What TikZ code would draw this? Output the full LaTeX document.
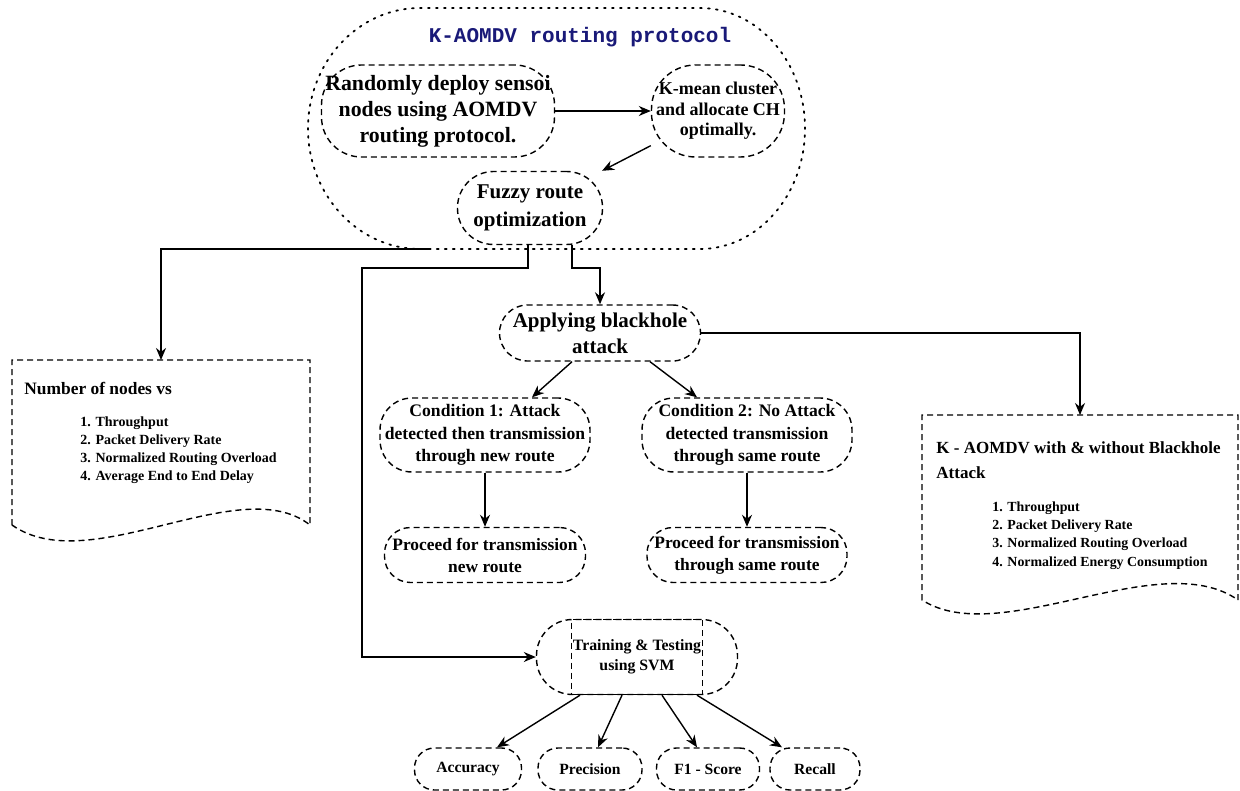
\documentclass[tikz,border=0pt]{standalone}
\usepackage{fontspec}
\setmainfont{Liberation Serif}
\setmonofont{Liberation Mono}
\usetikzlibrary{arrows.meta}
\definecolor{titleblue}{RGB}{25,25,120}
\newcommand{\fsz}[2]{\fontsize{#1}{#2}\selectfont\bfseries}
\tikzset{
  box/.style={draw, dash pattern=on 3pt off 2pt, line width=0.7pt, rounded corners=#1,
    align=center, inner sep=0pt},
  box/.default=14pt,
  docline/.style={draw, dash pattern=on 3pt off 2pt, line width=0.7pt},
  doctext/.style={anchor=west, align=left, inner sep=0pt},
  arr/.style={-{Stealth[length=6pt,width=5pt]}, line width=0.7pt},
  wire/.style={line width=0.7pt}
}
\begin{document}
\begin{tikzpicture}[x=0.5pt,y=-0.5pt]
\useasboundingbox (0,0) rectangle (1240,791);
% routing protocol group
\draw[dash pattern=on 0.9pt off 3.1pt, line cap=round, line width=0.9pt]
  (420,8) -- (700,8) arc[start angle=90, end angle=-90, x radius=52.5pt, y radius=60.25pt]
  -- (420,249) arc[start angle=270, end angle=90, x radius=56pt, y radius=60.25pt] -- cycle;
\node[minimum width=248.5pt, minimum height=120.5pt] (proto) at (556.5,128.5) {};
\node[font=\ttfamily\fsz{10.5}{12}, text=titleblue] (title) at (580,37) {K-AOMDV routing protocol};
\node[box=20pt, minimum width=116.5pt, minimum height=46pt, font=\fsz{10.9}{13}] (deploy) at (438,111)
  {Randomly deploy sensoi\\nodes using AOMDV\\routing protocol.};
\node[box=22pt, minimum width=66.5pt, minimum height=46pt, font=\fsz{9}{10.3}] (kmean) at (718,111)
  {K-mean cluster\\and allocate CH\\optimally.};
\node[box=18pt, minimum width=72.5pt, minimum height=36.5pt, font=\fsz{10.5}{14}] (fuzzy) at (530,208)
  {Fuzzy route\\optimization};
\draw[arr] (deploy.east) -- (kmean.west);
\draw[arr] (kmean) -- (fuzzy);

% attack branch
\node[box=14pt, minimum width=100.5pt, minimum height=28pt, font=\fsz{10.5}{13}] (apply) at (600,333)
  {Applying blackhole\\attack};
\node[box=16pt, minimum width=105pt, minimum height=37pt, font=\fsz{8.8}{11.2}] (cond1) at (485,435)
  {Condition 1: Attack\\detected then transmission\\through new route};
\node[box=16pt, minimum width=105pt, minimum height=37pt, font=\fsz{8.8}{11.2}] (cond2) at (747,435)
  {Condition 2: No Attack\\detected transmission\\through same route};
\node[box=13pt, minimum width=100.5pt, minimum height=27.5pt, font=\fsz{8.7}{11}] (proc1) at (485,555)
  {Proceed for transmission\\new route};
\node[box=13pt, minimum width=100pt, minimum height=27.5pt, font=\fsz{8.7}{11}] (proc2) at (747,555)
  {Proceed for transmission\\through same route};
\draw[arr] ([xshift=-14pt]apply.south) -- ([xshift=23.5pt]cond1.north);
\draw[arr] ([xshift=25pt]apply.south) -- ([xshift=-25pt]cond2.north);
\draw[arr] (cond1.south) -- (proc1.north);
\draw[arr] (cond2.south) -- (proc2.north);

% result sheets
\draw[docline] (12,525) -- (12,360) -- (310,360) -- (310,525)
  .. controls (240,470) and (90,580) .. (12,525) -- cycle;
\coordinate (doc1) at (161,360);
\node[doctext, font=\fsz{8.7}{11}] (doc1title) at (24,388) {Number of nodes vs};
\node[doctext, font=\fsz{7}{9}] (doc1list) at (80,450)
  {1. Throughput\\2. Packet Delivery Rate\\3. Normalized Routing Overload\\4. Average End to End Delay};
\draw[docline] (922,600) -- (922,415) -- (1238,415) -- (1238,600)
  .. controls (1160,545) and (1000,650) .. (922,600) -- cycle;
\coordinate (doc2) at (1080,415);
\node[doctext, font=\fsz{8.5}{12.5}] (doc2title) at (936,460.5)
  {K - AOMDV with \& without Blackhole\\Attack};
\node[doctext, font=\fsz{6.95}{9.2}] (doc2list) at (992,535.5)
  {1. Throughput\\2. Packet Delivery Rate\\3. Normalized Routing Overload\\4. Normalized Energy Consumption};

% svm part
\node[box=18pt, minimum width=100.5pt, minimum height=37.5pt] (train) at (637,657) {};
\node[draw, dash pattern=on 3pt off 2pt, line width=0.7pt, minimum width=65.5pt, minimum height=37.5pt,
  inner sep=0pt, align=center, font=\fsz{7.9}{10}] (svm) at (637,657) {Training \& Testing\\using SVM};
\node[box=10pt, minimum width=53.5pt, minimum height=21pt, font=\fsz{7.8}{9}] (acc) at (468,769) {Accuracy};
\node[box=10pt, minimum width=52pt, minimum height=21pt, font=\fsz{7.8}{9}] (prec) at (590,769) {Precision};
\node[box=10pt, minimum width=51.5pt, minimum height=21pt, font=\fsz{7.8}{9}] (f1) at (708,769) {F1 - Score};
\node[box=10pt, minimum width=45pt, minimum height=21pt, font=\fsz{7.8}{9}] (rec) at (815,769) {Recall};
\draw[arr] ([xshift=-28.5pt]train.south) -- ([xshift=14.5pt]acc.north);
\draw[arr] ([xshift=-7.5pt]train.south) -- ([xshift=4pt]prec.north);
\draw[arr] ([xshift=12.5pt]train.south) -- ([xshift=-5.5pt]f1.north);
\draw[arr] ([xshift=30pt]train.south) -- ([xshift=-16.5pt]rec.north);

% links out of the protocol group
\coordinate (out1) at (430,249);
\coordinate (j1) at (362,268);
\coordinate (j2) at (600,268);
\draw[arr] (out1) -| (doc1);
\draw[arr] ([xshift=-1pt]fuzzy.south) |- (j1) |- (train.west);
\draw[arr] ([xshift=21pt]fuzzy.south) |- (j2) -- (apply.north);
\draw[arr] (apply.east) -| (doc2);
\end{tikzpicture}
\end{document}
